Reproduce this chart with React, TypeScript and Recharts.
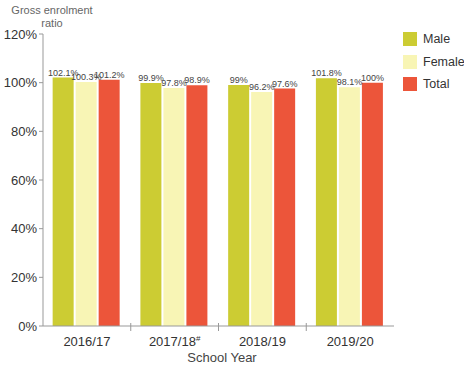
import { BarChart, Bar, XAxis, YAxis, LabelList } from 'recharts';

const years = ['2016/17', '2017/18#', '2018/19', '2019/20'];
const male = [102.1, 99.9, 99, 101.8];
const female = [100.3, 97.8, 96.2, 98.1];
const total = [101.2, 98.9, 97.6, 100];
const yTicks = [0, 20, 40, 60, 80, 100, 120];

const COLORS = { male: '#cccc33', female: '#f8f5b5', total: '#ec553a' };
const FONT = '"Liberation Sans", Arial, sans-serif';

const data = years.map((y, i) => ({
  year: y,
  male: male[i],
  female: female[i],
  total: total[i],
}));

// category label plus a small divider tick at the right edge of each band
const YearTick = (props: any) => {
  const { x, y, payload, index, visibleTicksCount, width } = props;
  const v: string = payload.value;
  const hasMark = v.endsWith('#');
  const text = hasMark ? v.slice(0, -1) : v;
  const band = width / visibleTicksCount;
  const bx = x + band / 2;
  return (
    <g>
      {index < visibleTicksCount - 1 && (
        <line x1={bx} x2={bx} y1={y - 11} y2={y - 3} stroke="#999" />
      )}
      <text x={x} y={y + 12} textAnchor="middle" fontSize={13} fill="#333" fontFamily={FONT}>
        {text}
        {hasMark && <tspan fontSize={8} dy={-5}>#</tspan>}
      </text>
    </g>
  );
};

const fmt = (v: any) => `${v}%`;

export default function App() {
  const legend = [
    { name: 'Male', color: COLORS.male },
    { name: 'Female', color: COLORS.female },
    { name: 'Total', color: COLORS.total },
  ];
  return (
    <div style={{ position: 'absolute', left: 0, top: 0, width: 464, height: 365, fontFamily: FONT }}>
      <div style={{ position: 'absolute', left: 0, top: 4, width: 104, textAlign: 'center', fontSize: 11, color: '#666', lineHeight: '13px' }}>
        Gross enrolment
        <br />
        ratio
      </div>
      <BarChart
        width={464}
        height={365}
        data={data}
        margin={{ top: 34, right: 70, left: 0, bottom: 9 }}
        barCategoryGap="11%"
        barGap={2}
      >
        <XAxis
          dataKey="year"
          stroke="#999"
          tickLine={false}
          tick={<YearTick />}
          interval={0}
          height={30}
        />
        <YAxis
          domain={[0, 120]}
          ticks={yTicks}
          tickFormatter={fmt}
          width={43}
          stroke="#999"
          tickSize={4}
          tick={{ fontSize: 13, fill: '#333', fontFamily: FONT }}
        />
        <Bar dataKey="male" fill={COLORS.male} isAnimationActive={false}>
          <LabelList dataKey="male" position="top" offset={2} formatter={fmt} fontSize={9} fill="#444" fontFamily={FONT} />
        </Bar>
        <Bar dataKey="female" fill={COLORS.female} isAnimationActive={false}>
          <LabelList dataKey="female" position="top" offset={2} formatter={fmt} fontSize={9} fill="#444" fontFamily={FONT} />
        </Bar>
        <Bar dataKey="total" fill={COLORS.total} isAnimationActive={false}>
          <LabelList dataKey="total" position="top" offset={2} formatter={fmt} fontSize={9} fill="#444" fontFamily={FONT} />
        </Bar>
      </BarChart>
      <div style={{ position: 'absolute', left: 172, top: 350, width: 100, textAlign: 'center', fontSize: 13, color: '#444' }}>
        School Year
      </div>
      <div style={{ position: 'absolute', left: 403, top: 32 }}>
        {legend.map((l) => (
          <div key={l.name} style={{ display: 'flex', alignItems: 'center', height: 14, marginBottom: 8.5 }}>
            <div style={{ width: 14, height: 14, background: l.color, marginRight: 6 }} />
            <span style={{ fontSize: 12.5, color: '#333' }}>{l.name}</span>
          </div>
        ))}
      </div>
    </div>
  );
}
